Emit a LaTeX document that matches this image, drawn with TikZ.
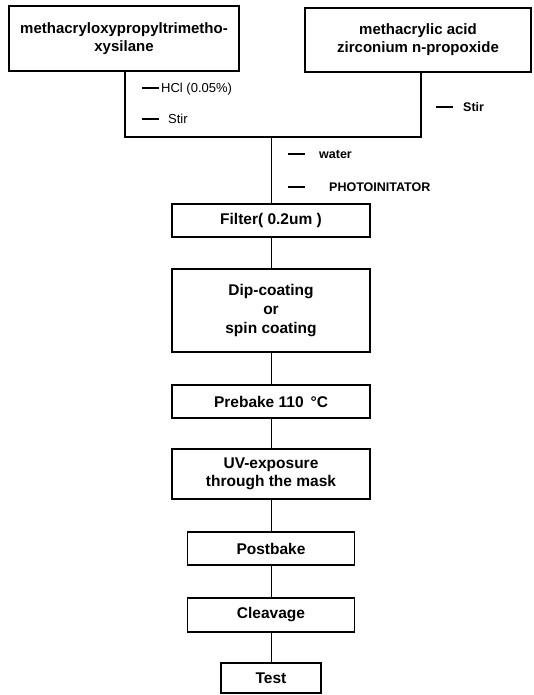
\documentclass[tikz,border=0pt]{standalone}
\usepackage{fontspec}
\setmainfont{Liberation Sans}
\tikzstyle{stepbox}=[draw=black, line width=1.6pt, inner sep=0pt, align=center, minimum width=198pt, minimum height=33pt, font=\fontsize{15.5}{19}\selectfont\bfseries]
\tikzstyle{srcbox}=[stepbox, minimum height=65pt, font=\fontsize{15}{18}\selectfont\bfseries]
\tikzstyle{addlabel}=[anchor=west, inner sep=0pt, font=\fontsize{13}{15}\selectfont]
\tikzstyle{link}=[line width=0.8pt]
\newcommand{\addtick}{\rule[0.28em]{17pt}{1.8pt}}

\begin{document}
\begin{tikzpicture}[x=1pt, y=-1pt]
	\useasboundingbox (0,0) rectangle (533,695);
	\node[srcbox, minimum width=230pt] (silane) at (124,38.5) {methacryloxypropyltrimetho-\\xysilane};
	\node[srcbox, minimum width=226pt, minimum height=64pt] (zirc) at (418,40) {methacrylic acid\\zirconium n-propoxide};
	\coordinate (jl) at (125,137);
	\coordinate (jr) at (421,137);
	\coordinate (join) at (271,137);
	\node[addlabel] (hcl) at (142,89) {\addtick\hspace{2pt}HCl (0.05\%)};
	\node[addlabel] (stirl) at (142,119) {\addtick\hspace{9pt}Stir};
	\node[addlabel, font=\fontsize{12.5}{15}\selectfont\bfseries] (stirr) at (436,107) {\addtick\hspace{10pt}Stir};
	\node[addlabel, font=\fontsize{12.5}{15}\selectfont\bfseries] (water) at (288,154) {\addtick\hspace{14pt}water};
	\node[addlabel, font=\fontsize{12.5}{15}\selectfont\bfseries] (photo) at (288,187) {\addtick\hspace{24pt}PHOTOINITATOR};
	\node[stepbox] (filter) at (271,220.5) {Filter( 0.2um )};
	\node[stepbox, minimum height=83pt] (dip) at (271,310.5) {Dip-coating\\or\\spin coating};
	\node[stepbox] (prebake) at (271,401.5) {Prebake 110 \,°C};
	\node[stepbox, minimum height=50pt, font=\fontsize{15.5}{18}\selectfont\bfseries] (uv) at (271,474) {UV-exposure\\through the mask};
	\node[stepbox, minimum width=167pt] (postbake) at (271,548.5) {Postbake};
	\node[stepbox, minimum width=167pt, minimum height=34pt] (cleavage) at (271,615) {Cleavage};
	\node[stepbox, minimum width=100pt, minimum height=30pt] (test) at (271,678) {Test};
	\draw[link, line width=1.2pt] (silane.south -| jl) -- (jl) -- (jr) -- (zirc.south -| jr);
	\draw[link] (join) -- (filter);
	\draw[link] (filter) -- (dip);
	\draw[link] (dip) -- (prebake);
	\draw[link] (prebake) -- (uv);
	\draw[link] (uv) -- (postbake);
	\draw[link] (postbake) -- (cleavage);
	\draw[link] (cleavage) -- (test);
\end{tikzpicture}
\end{document}
